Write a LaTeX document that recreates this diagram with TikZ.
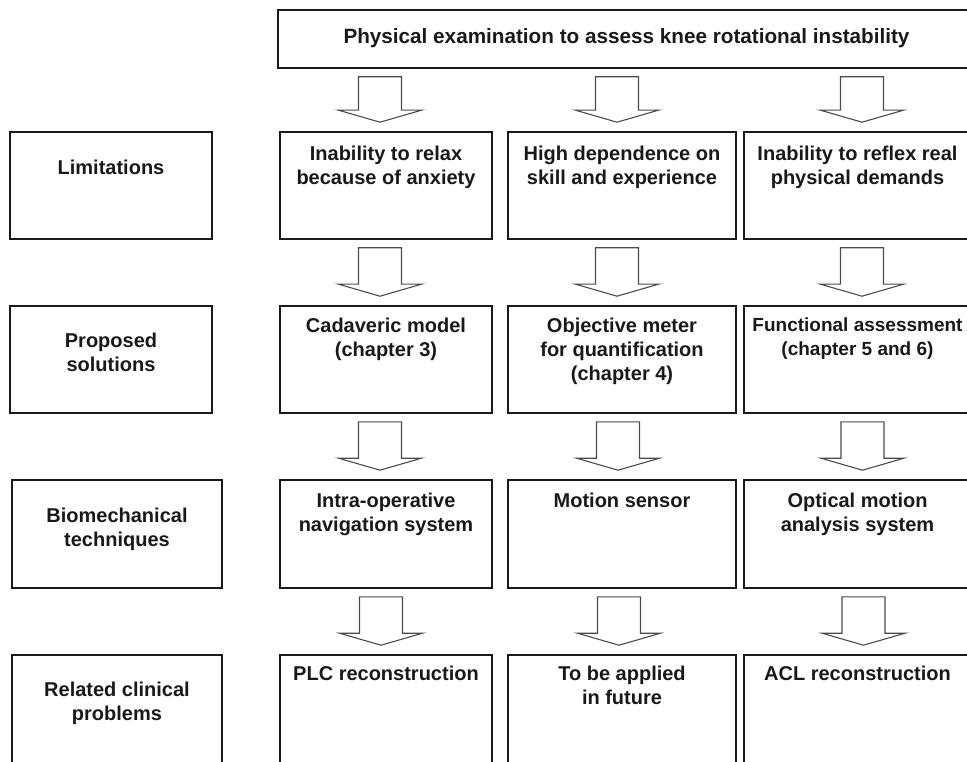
\documentclass[tikz,border=0pt]{standalone}
\usepackage{fontspec}
\setmainfont{Liberation Sans}
\usetikzlibrary{calc}
\tikzset{
 box/.style={draw=black!90, line width=1.6pt, inner sep=0pt, rectangle},
 lbl/.style={anchor=north, align=center, inner sep=0pt, text=black!90, font=\fontsize{20}{24}\selectfont\bfseries},
 arrowline/.style={draw=black!70, line width=1.1pt, line join=miter}
}
\newcommand\blockarrow[3]{%
 \draw[arrowline] let \p1=(#1.south), \p2=($(#2.north)+(#3,0)$) in
  (\x2-21.5pt,\y1-8pt) -- (\x2-21.5pt,\y2+21pt) -- (\x2-41.5pt,\y2+21pt) -- (\x2,\y2+9pt)
  -- (\x2+41.5pt,\y2+21pt) -- (\x2+21.5pt,\y2+21pt) -- (\x2+21.5pt,\y1-8pt) -- cycle;}
\begin{document}
\begin{tikzpicture}[x=1pt,y=-1pt]
\useasboundingbox (0,0) rectangle (967,762);
\fill[white] (0,0) rectangle (967,762);
\clip (0,0) rectangle (967,762);
% boxes
\node[box, minimum width=697pt, minimum height=58pt] (top) at (626.5,39) {};
\node[box, minimum width=202pt, minimum height=107pt] (l1) at (111,185.5) {};
\node[box, minimum width=212pt, minimum height=107pt] (c11) at (386,185.5) {};
\node[box, minimum width=228pt, minimum height=107pt] (c12) at (622,185.5) {};
\node[box, minimum width=227pt, minimum height=107pt] (c13) at (857.5,185.5) {};
\node[box, minimum width=202pt, minimum height=107pt] (l2) at (111,359.5) {};
\node[box, minimum width=212pt, minimum height=107pt] (c21) at (386,359.5) {};
\node[box, minimum width=228pt, minimum height=107pt] (c22) at (622,359.5) {};
\node[box, minimum width=227pt, minimum height=107pt] (c23) at (857.5,359.5) {};
\node[box, minimum width=210pt, minimum height=108pt] (l3) at (117,534) {};
\node[box, minimum width=212pt, minimum height=108pt] (c31) at (386,534) {};
\node[box, minimum width=228pt, minimum height=108pt] (c32) at (622,534) {};
\node[box, minimum width=227pt, minimum height=108pt] (c33) at (857.5,534) {};
\node[box, minimum width=210pt, minimum height=108pt] (l4) at (117,709) {};
\node[box, minimum width=212pt, minimum height=108pt] (c41) at (386,709) {};
\node[box, minimum width=228pt, minimum height=108pt] (c42) at (622,709) {};
\node[box, minimum width=227pt, minimum height=108pt] (c43) at (857.5,709) {};
% arrows
\blockarrow{top}{c11}{-6}
\blockarrow{top}{c12}{-5}
\blockarrow{top}{c13}{4.5}
\blockarrow{c11}{c21}{-6}
\blockarrow{c12}{c22}{-5}
\blockarrow{c13}{c23}{4.5}
\blockarrow{c21}{c31}{-6}
\blockarrow{c22}{c32}{-4}
\blockarrow{c23}{c33}{5}
\blockarrow{c31}{c41}{-5}
\blockarrow{c32}{c42}{-3}
\blockarrow{c33}{c43}{6}
% texts
\node[lbl, font=\fontsize{20.7}{24}\selectfont\bfseries] (ttop) at (626.5,28.5) {Physical examination to assess knee rotational instability};
\node[lbl] (tl1) at (111,159.5) {Limitations};
\node[lbl] (t11) at (386,145.5) {Inability to relax\\because of anxiety};
\node[lbl] (t12) at (622,145.5) {High dependence on\\skill and experience};
\node[lbl] (t13) at (857.5,145.5) {Inability to reflex real\\physical demands};
\node[lbl] (tl2) at (111,332.5) {Proposed\\solutions};
\node[lbl] (t21) at (386,317.5) {Cadaveric model\\(chapter 3)};
\node[lbl] (t22) at (622,317.5) {Objective meter\\for quantification\\(chapter 4)};
\node[lbl, font=\fontsize{19}{24}\selectfont\bfseries] (t23) at (857.5,317.5) {Functional assessment\\(chapter 5 and 6)};
\node[lbl] (tl3) at (117,507.5) {Biomechanical\\techniques};
\node[lbl] (t31) at (386,492.5) {Intra-operative\\navigation system};
\node[lbl] (t32) at (622,492.5) {Motion sensor};
\node[lbl] (t33) at (857.5,492.5) {Optical motion\\analysis system};
\node[lbl] (tl4) at (117,681.5) {Related clinical\\problems};
\node[lbl] (t41) at (386,665.5) {PLC reconstruction};
\node[lbl] (t42) at (622,665.5) {To be applied\\in future};
\node[lbl] (t43) at (857.5,665.5) {ACL reconstruction};
\end{tikzpicture}
\end{document}
